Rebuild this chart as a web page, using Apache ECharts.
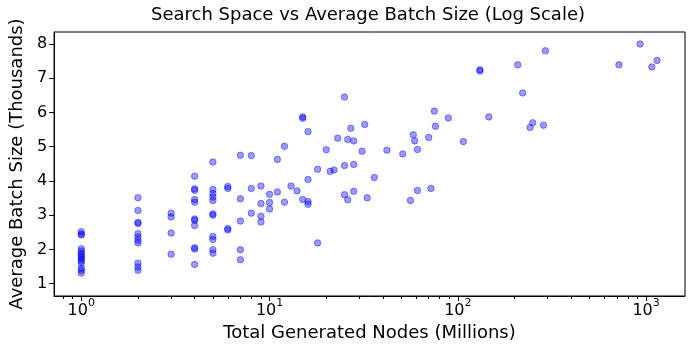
<!DOCTYPE html>
<html>
<head>
<meta charset="utf-8">
<script src="https://cdn.jsdelivr.net/npm/echarts@6/dist/echarts.min.js"></script>
<style>
  html, body { margin: 0; padding: 0; background: #fff; }
  #chart { width: 692px; height: 353px; }
</style>
</head>
<body>
<div id="chart"></div>
<script>
// total generated nodes (millions), one entry per run
var nodesMillions = [
  1, 1, 1, 1, 1, 1, 1, 1, 1, 1, 1, 1, 1, 1,
  2, 2, 2, 2, 2, 2, 2, 2, 2, 2, 2,
  3, 3, 3, 3,
  4, 4, 4, 4, 4, 4, 4, 4, 4, 4, 4,
  5, 5, 5, 5, 5, 5, 5, 5, 5, 5, 5,
  6, 6, 6, 6,
  7, 7, 7, 7, 7,
  8, 8, 8,
  9, 9, 9, 9,
  10, 10, 10,
  11, 11,
  12, 12,
  13, 14,
  15, 15, 15,
  16, 16, 16, 16,
  18, 18,
  20, 21, 22, 23,
  25, 25, 25,
  26, 26, 27,
  28, 28, 28,
  31, 32, 33, 36, 42, 51, 56, 58, 59,
  61, 61, 70, 72, 75, 76, 89, 107,
  131, 131, 146, 208, 221, 242, 250, 285, 292,
  717, 929, 1072, 1143
]
// average batch size (thousands), same order
var avgBatchK = [
  2.52, 2.45, 2.42, 2.02, 1.95, 1.88, 1.82, 1.77, 1.72, 1.66, 1.60, 1.45, 1.39, 1.31,
  3.51, 3.14, 2.79, 2.76, 2.46, 2.36, 2.27, 2.19, 1.60, 1.49, 1.39,
  3.06, 2.95, 2.48, 1.86,
  4.14, 3.77, 3.73, 3.46, 3.38, 2.89, 2.85, 2.70, 2.05, 2.01, 1.56,
  4.55, 3.75, 3.63, 3.53, 3.43, 3.04, 3.00, 2.38, 2.29, 1.99, 1.89,
  3.84, 3.78, 2.61, 2.57,
  4.75, 3.48, 2.83, 1.99, 1.70,
  4.74, 3.78, 3.06,
  3.85, 3.34, 2.97, 2.80,
  3.61, 3.37, 3.18,
  4.63, 3.68,
  5.01, 3.38,
  3.85, 3.71,
  5.87, 5.83, 3.46,
  5.44, 4.04, 3.40, 3.32,
  4.34, 2.19,
  4.91, 4.28, 4.32, 5.25,
  6.45, 4.45, 3.60,
  5.21, 3.45, 5.54,
  5.17, 4.48, 3.70,
  4.87, 5.65, 3.51, 4.10, 4.90, 4.79, 3.43, 5.35, 5.17,
  4.92, 3.72, 5.27, 3.78, 6.04, 5.60, 5.84, 5.15,
  7.25, 7.21, 5.87, 7.39, 6.57, 5.56, 5.70, 5.63, 7.80,
  7.39, 8.00, 7.33, 7.52
]

var xMajorTicks = [1, 10, 100, 1000]
var xMajorExp = ['0', '1', '2', '3']
var xMinorTicks = [0.8, 0.9, 2, 3, 4, 5, 6, 7, 8, 9, 20, 30, 40, 50, 60, 70, 80, 90,
  200, 300, 400, 500, 600, 700, 800, 900]
var yTicks = [1, 2, 3, 4, 5, 6, 7, 8]

var points = []
for (var i = 0; i < nodesMillions.length; i++) {
  points.push([nodesMillions[i], avgBatchK[i]])
}

var font = 'DejaVu Sans'
var chart = echarts.init(document.getElementById('chart'), null, { renderer: 'canvas' })

chart.setOption({
  backgroundColor: '#fff',
  animation: false,
  title: {
    text: 'Search Space vs Average Batch Size (Log Scale)',
    left: 363,
    top: 1,
    textAlign: 'center',
    textStyle: { fontFamily: font, fontSize: 18, fontWeight: 'normal', color: '#000' }
  },
  grid: {
    left: 52,
    right: 7,
    top: 32,
    bottom: 57,
    show: true,
    borderColor: '#000',
    borderWidth: 1,
    backgroundColor: 'transparent'
  },
  xAxis: [{
    type: 'log',
    logBase: 10,
    min: 0.717,
    max: 1609,
    name: 'Total Generated Nodes (Millions)',
    nameLocation: 'middle',
    nameGap: 25,
    nameTextStyle: { fontFamily: font, fontSize: 18, color: '#000' },
    axisLine: { show: true, onZero: false, lineStyle: { color: '#000', width: 1 } },
    axisTick: { show: true, length: 5, customValues: xMajorTicks, lineStyle: { color: '#000', width: 1 } },
    axisLabel: {
      customValues: xMajorTicks,
      margin: 2,
      fontFamily: font,
      color: '#000',
      formatter: function (v) {
        var k = xMajorTicks.indexOf(Math.round(v))
        return k >= 0 ? '{b|10}{s|' + xMajorExp[k] + '}' : ''
      },
      rich: {
        b: { fontFamily: font, fontSize: 16, lineHeight: 21, verticalAlign: 'bottom', color: '#000' },
        s: { fontFamily: font, fontSize: 11, lineHeight: 11, verticalAlign: 'top', color: '#000' }
      }
    },
    splitLine: { show: false }
  }, {
    type: 'log',
    logBase: 10,
    min: 0.717,
    max: 1609,
    position: 'bottom',
    axisLine: { show: false },
    axisTick: { show: true, length: 3, customValues: xMinorTicks, lineStyle: { color: '#000', width: 1 } },
    axisLabel: { show: false },
    splitLine: { show: false }
  }],
  yAxis: {
    type: 'value',
    min: 0.64,
    max: 8.35,
    name: 'Average Batch Size (Thousands)',
    nameLocation: 'middle',
    nameGap: 25,
    nameTextStyle: { fontFamily: font, fontSize: 18, color: '#000' },
    axisLine: { show: true, onZero: false, lineStyle: { color: '#000', width: 1 } },
    axisTick: { show: true, length: 5, customValues: yTicks, lineStyle: { color: '#000', width: 1 } },
    axisLabel: { customValues: yTicks, margin: 7, fontFamily: font, fontSize: 16, color: '#000' },
    splitLine: { show: false }
  },
  series: [{
    type: 'scatter',
    xAxisIndex: 0,
    data: points,
    symbol: 'circle',
    symbolSize: 6.5,
    itemStyle: {
      color: 'rgba(0,0,255,0.5)',
      borderColor: 'rgba(0,0,255,0.5)',
      borderWidth: 1
    }
  }]
})
</script>
</body>
</html>
